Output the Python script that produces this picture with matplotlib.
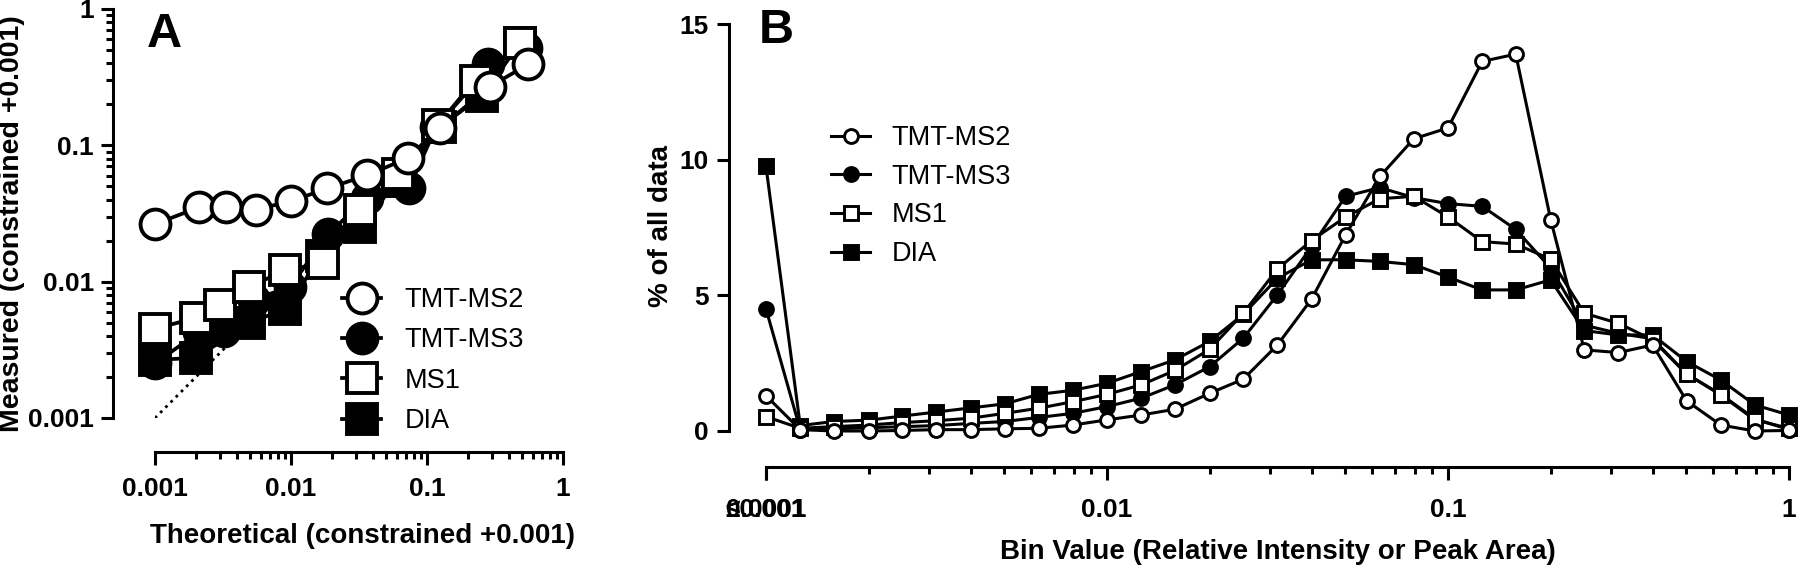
import matplotlib
matplotlib.use("Agg")
import matplotlib.pyplot as plt
from matplotlib.ticker import FixedLocator, FixedFormatter, LogLocator, NullFormatter

plt.rcParams['font.family'] = ['Liberation Sans', 'DejaVu Sans']
plt.rcParams['font.weight'] = 'bold'
plt.rcParams['axes.labelweight'] = 'bold'

names = ["TMT-MS2", "TMT-MS3", "MS1", "DIA"]

# panel A: measured vs theoretical (both +0.001)
ms2_x = [0.001, 0.0021, 0.0033, 0.0055, 0.0100, 0.0185, 0.0365, 0.072, 0.125, 0.29, 0.553]
ms2_y = [0.0264, 0.0351, 0.0351, 0.0338, 0.0389, 0.0483, 0.0605, 0.0805, 0.135, 0.270, 0.392]
ms3_x = [0.001, 0.0021, 0.0032, 0.0053, 0.0098, 0.0188, 0.036, 0.0733, 0.117, 0.281, 0.536]
ms3_y = [0.00252, 0.00425, 0.00438, 0.00738, 0.00916, 0.0223, 0.0414, 0.0483, 0.137, 0.392, 0.516]
ms1_x = [0.001, 0.0020, 0.0030, 0.0049, 0.0091, 0.0173, 0.032, 0.0612, 0.121, 0.231, 0.486]
ms1_y = [0.00451, 0.00543, 0.00675, 0.00916, 0.0121, 0.0137, 0.0334, 0.0617, 0.1416, 0.296, 0.566]
dia_x = [0.001, 0.0020, 0.0049, 0.0091, 0.0168, 0.032, 0.0612, 0.125, 0.255, 0.486]
dia_y = [0.00267, 0.00276, 0.00496, 0.00633, 0.0155, 0.0253, 0.055, 0.137, 0.232, 0.566]

# panel B: distribution of bin values (% of all data)
bins = [0.001, 0.00126, 0.00158, 0.002, 0.00251, 0.00316, 0.00398, 0.00501, 0.00631, 0.00794,
        0.01, 0.0126, 0.0158, 0.02, 0.0251, 0.0316, 0.0398, 0.0501, 0.0631, 0.0794,
        0.1, 0.126, 0.158, 0.2, 0.251, 0.316, 0.398, 0.501, 0.631, 0.794, 1.0]
ms2_pct = [1.30, 0.05, 0.0, 0.0, 0.02, 0.05, 0.05, 0.08, 0.10, 0.22, 0.41, 0.59, 0.80, 1.39, 1.91, 3.17,
           4.86, 7.23, 9.38, 10.77, 11.17, 13.62, 13.89, 7.79, 2.99, 2.89, 3.17, 1.11, 0.22, 0.0, 0.02]
ms3_pct = [4.50, 0.05, 0.08, 0.12, 0.16, 0.20, 0.28, 0.35, 0.50, 0.65, 0.90, 1.21, 1.70, 2.37, 3.42, 5.02,
           6.80, 8.65, 8.97, 8.60, 8.38, 8.28, 7.43, 6.00, 3.90, 3.60, 3.40, 2.10, 1.35, 0.45, 0.05]
ms1_pct = [0.53, 0.10, 0.16, 0.22, 0.31, 0.38, 0.47, 0.65, 0.84, 1.08, 1.35, 1.70, 2.23, 3.01, 4.34, 5.97,
           7.02, 7.89, 8.56, 8.65, 7.89, 6.98, 6.89, 6.33, 4.34, 3.97, 3.36, 2.10, 1.33, 0.41, 0.10]
dia_pct = [9.75, 0.20, 0.35, 0.40, 0.55, 0.70, 0.85, 1.00, 1.35, 1.50, 1.76, 2.19, 2.62, 3.30, 4.30, 5.63,
           6.31, 6.31, 6.25, 6.13, 5.67, 5.20, 5.20, 5.57, 3.70, 3.54, 3.54, 2.56, 1.88, 0.96, 0.59]

styles = {"TMT-MS2": ("o", "white"), "TMT-MS3": ("o", "black"),
          "MS1": ("s", "white"), "DIA": ("s", "black")}

W, H = 1800, 570
fig = plt.figure(figsize=(W / 100, H / 100), dpi=100)


def px_axes(x0, y0, x1, y1):
    return fig.add_axes([x0 / W, 1 - y1 / H, (x1 - x0) / W, (y1 - y0) / H])


def prism_spines(ax, left_out, bottom_out):
    for s in ["top", "right"]:
        ax.spines[s].set_visible(False)
    ax.spines["left"].set_position(("outward", left_out))
    ax.spines["bottom"].set_position(("outward", bottom_out))
    for s in ["left", "bottom"]:
        ax.spines[s].set_linewidth(2.2)
    ax.tick_params(which="major", length=9, width=2.2, labelsize=19, pad=5)
    ax.tick_params(which="minor", length=5, width=2.2)


# ---------- A ----------
axA = px_axes(155, 9, 563, 418)
axA.set_xscale("log")
axA.set_yscale("log")
axA.set_xlim(0.001, 1)
axA.set_ylim(0.001, 1)
axA.plot([0.001, 0.08], [0.001, 0.08], ls=":", color="black", lw=2, zorder=1)

dataA = {"TMT-MS2": (ms2_x, ms2_y), "TMT-MS3": (ms3_x, ms3_y),
         "MS1": (ms1_x, ms1_y), "DIA": (dia_x, dia_y)}
linesA = {}
for name in ["DIA", "TMT-MS3", "MS1", "TMT-MS2"]:
    mk, fc = styles[name]
    xs, ys = dataA[name]
    linesA[name], = axA.plot(xs, ys, marker=mk, mfc=fc, mec="black", color="black",
                             ms=21.5, mew=2.8, lw=2.7, clip_on=False, label=name)

prism_spines(axA, 30, 24.5)
axA.tick_params(axis="x", pad=9)
for axis in [axA.xaxis, axA.yaxis]:
    axis.set_major_locator(FixedLocator([0.001, 0.01, 0.1, 1]))
    axis.set_major_formatter(FixedFormatter(["0.001", "0.01", "0.1", "1"]))
    axis.set_minor_locator(LogLocator(base=10, subs=range(2, 10)))
    axis.set_minor_formatter(NullFormatter())

fig.text(155 / W + 0.115, 1 - 536 / H, "Theoretical (constrained +0.001)", ha="center",
         va="center", fontsize=20, fontweight="bold")
fig.text(12 / W, 1 - 224 / H, "Measured (constrained +0.001)", rotation=90, ha="center",
         va="center", fontsize=20.5, fontweight="bold")
fig.text(147 / W, 1 - 12 / H, "A", fontsize=35, fontweight="bold", va="top", ha="left")

axA.legend([linesA[n] for n in names], names, loc="upper left", frameon=False,
           bbox_to_anchor=(342 / W, 1 - 287 / H), bbox_transform=fig.transFigure,
           borderaxespad=0, borderpad=0, handlelength=1.45, handletextpad=0.85,
           labelspacing=0.53, numpoints=1, prop={"weight": "normal", "size": 19.5})

# ---------- B ----------
axB = px_axes(766, 24, 1789, 431)
axB.set_xscale("log")
axB.set_xlim(0.001, 1)
axB.set_ylim(0, 15)

dataB = {"TMT-MS2": ms2_pct, "TMT-MS3": ms3_pct, "MS1": ms1_pct, "DIA": dia_pct}
linesB = {}
for name in ["DIA", "TMT-MS3", "MS1", "TMT-MS2"]:
    mk, fc = styles[name]
    size = 10.5 if mk == "s" else 10
    linesB[name], = axB.plot(bins, dataB[name], marker=mk, mfc=fc, mec="black", color="black",
                             ms=size, mew=2.1, lw=2.2, clip_on=False, label=name)

prism_spines(axB, 27, 26)
axB.set_yticks([0, 5, 10, 15])
axB.xaxis.set_major_locator(FixedLocator([0.001, 0.001, 0.01, 0.1, 1]))
axB.xaxis.set_major_formatter(FixedFormatter(["≤0.001", "0.0001", "0.01", "0.1", "1"]))
axB.xaxis.set_minor_locator(LogLocator(base=10, subs=range(2, 10)))
axB.xaxis.set_minor_formatter(NullFormatter())
axB.tick_params(axis="x", pad=13)

fig.text((766 + 1789) / 2 / W, 1 - 552 / H, "Bin Value (Relative Intensity or Peak Area)",
         ha="center", va="center", fontsize=20, fontweight="bold")
fig.text(661 / W, 1 - 226 / H, "% of all data", rotation=90, ha="center", va="center",
         fontsize=20, fontweight="bold")
fig.text(759 / W, 1 - 8 / H, "B", fontsize=35, fontweight="bold", va="top", ha="left")

axB.legend([linesB[n] for n in names], names, loc="upper left", frameon=False,
           bbox_to_anchor=(831 / W, 1 - 125 / H), bbox_transform=fig.transFigure,
           borderaxespad=0, borderpad=0, handlelength=1.45, handletextpad=0.78,
           labelspacing=0.47, numpoints=1, prop={"weight": "normal", "size": 19.5})

fig.savefig("out.png", dpi=100)
